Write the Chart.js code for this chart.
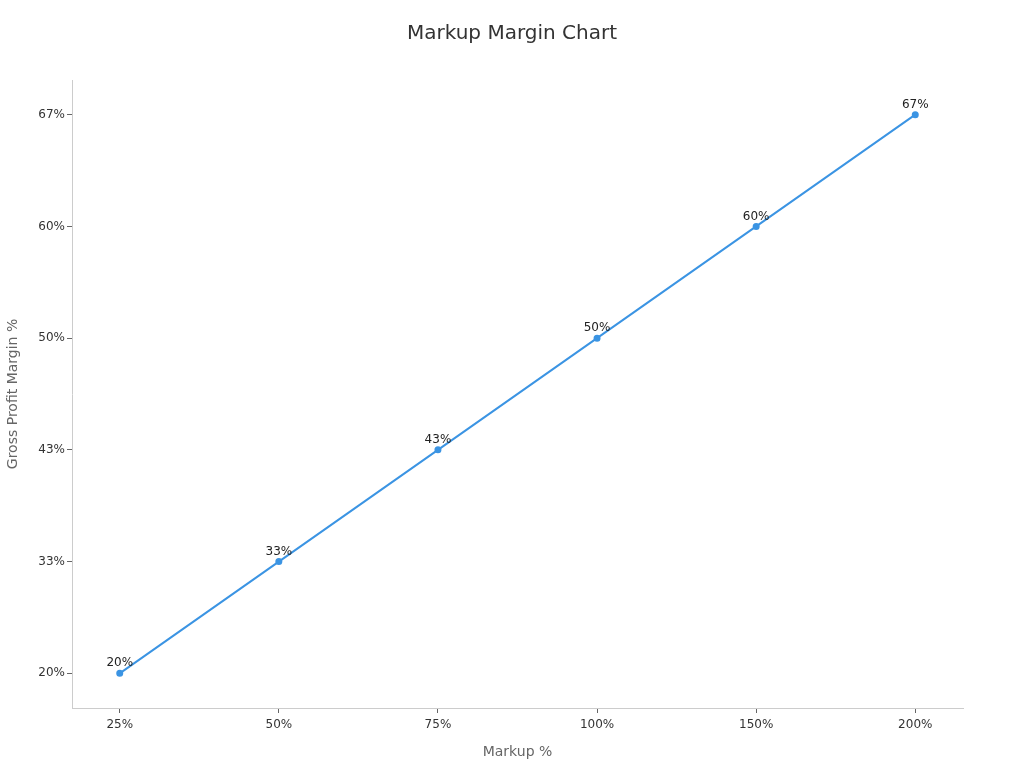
<!DOCTYPE html>
<html>
<head>
<meta charset="utf-8">
<script src="https://cdn.jsdelivr.net/npm/chart.js@4/dist/chart.umd.min.js"></script>
<style>
html,body{margin:0;padding:0;background:#fff;}
#wrap{width:1024px;height:768px;position:relative;}
</style>
</head>
<body>
<div id="wrap"><canvas id="c" width="1024" height="768"></canvas></div>
<script>
const markupLabels = ['25%', '50%', '75%', '100%', '150%', '200%'];
const marginLabels = ['20%', '33%', '43%', '50%', '60%', '67%'];
const marginIndex = [0, 1, 2, 3, 4, 5];

const points = markupLabels.map((m, i) => ({x: i, y: marginIndex[i]}));

const labelPlugin = {
  id: 'pointLabels',
  afterDatasetsDraw(chart) {
    const ctx = chart.ctx;
    const meta = chart.getDatasetMeta(0);
    ctx.save();
    ctx.font = '12px "DejaVu Sans", sans-serif';
    ctx.fillStyle = '#222';
    ctx.textAlign = 'center';
    ctx.textBaseline = 'bottom';
    meta.data.forEach((el, i) => {
      ctx.fillText(marginLabels[marginIndex[i]], el.x, el.y - 4);
    });
    ctx.restore();
  }
};

new Chart(document.getElementById('c'), {
  type: 'line',
  data: {
    datasets: [{
      data: points,
      borderColor: '#3b94e3',
      backgroundColor: '#3b94e3',
      borderWidth: 2,
      pointRadius: 2.5,
      pointHoverRadius: 2.5,
      tension: 0
    }]
  },
  options: {
    responsive: false,
    animation: false,
    layout: {padding: 0},
    plugins: {
      legend: {display: false},
      tooltip: {enabled: false},
      title: {
        display: true,
        text: 'Markup Margin Chart',
        color: '#333',
        font: {family: '"DejaVu Sans", sans-serif', size: 20, weight: 'normal'},
        padding: {top: 22, bottom: 34}
      }
    },
    scales: {
      x: {
        type: 'linear',
        min: -0.3,
        max: 5.3,
        afterBuildTicks(scale) { scale.ticks = markupLabels.map((_, i) => ({value: i})); },
        afterFit(scale) { scale.height = 60; },
        grid: {drawOnChartArea: false, drawTicks: true, tickLength: 5, tickColor: '#666'},
        border: {color: '#ccc', width: 1},
        ticks: {
          callback: (v) => markupLabels[v],
          color: '#333',
          font: {family: '"DejaVu Sans", sans-serif', size: 12},
          padding: 5,
          maxRotation: 0
        },
        title: {
          display: true,
          text: 'Markup %',
          color: '#666',
          font: {family: '"DejaVu Sans", sans-serif', size: 14},
          padding: {top: 6, bottom: 7}
        }
      },
      y: {
        type: 'linear',
        min: -0.31,
        max: 5.31,
        afterBuildTicks(scale) { scale.ticks = marginLabels.map((_, i) => ({value: i})); },
        afterFit(scale) { scale.width = 72; },
        grid: {drawOnChartArea: false, drawTicks: true, tickLength: 5, tickColor: '#666'},
        border: {color: '#ccc', width: 1},
        ticks: {
          callback: (v) => marginLabels[v],
          color: '#333',
          font: {family: '"DejaVu Sans", sans-serif', size: 12},
          padding: 2
        },
        title: {
          display: true,
          text: 'Gross Profit Margin %',
          color: '#666',
          font: {family: '"DejaVu Sans", sans-serif', size: 14},
          padding: {top: 5, bottom: 4}
        }
      },
      yRight: {
        type: 'linear',
        position: 'right',
        display: true,
        min: 0,
        max: 1,
        afterFit(scale) { scale.width = 61; },
        grid: {display: false, drawTicks: false},
        border: {display: false},
        ticks: {display: false}
      }
    }
  },
  plugins: [labelPlugin]
});
</script>
</body>
</html>
